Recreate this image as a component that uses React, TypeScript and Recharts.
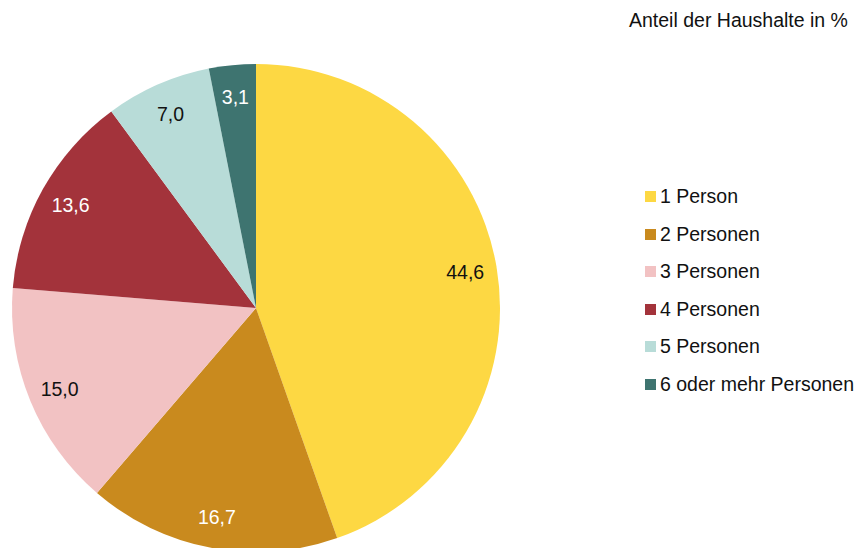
import { PieChart, Pie, Cell } from 'recharts';

const categories = ['1 Person', '2 Personen', '3 Personen', '4 Personen', '5 Personen', '6 oder mehr Personen'];
const shares = [44.6, 16.7, 15.0, 13.6, 7.0, 3.1];
const colors = ['#FDD843', '#C98A1E', '#F2C2C3', '#A3333B', '#B8DCD8', '#3E7470'];
const labelColors = ['#111', '#fff', '#111', '#fff', '#111', '#fff'];

const data = categories.map((name, i) => ({ name, value: shares[i] }));

const FONT = "'Liberation Sans', Arial, sans-serif";
const RAD = Math.PI / 180;

const renderLabel = (props: any) => {
    const { cx, cy, midAngle, outerRadius, index, value } = props;
    const r = outerRadius * 0.87;
    const x = cx + r * Math.cos(-midAngle * RAD);
    const y = cy + r * Math.sin(-midAngle * RAD);
    return (
        <text x={x} y={y} fill={labelColors[index]} textAnchor="middle" dominantBaseline="central"
            fontSize={19.5} fontFamily={FONT}>
            {value.toFixed(1).replace('.', ',')}
        </text>
    );
};

export default function App() {
    return (
        <div style={{ position: 'absolute', left: 0, top: 0, width: 859, height: 548, background: '#fff', overflow: 'hidden' }}>
            <div style={{ position: 'absolute', left: 629, top: 9, fontSize: 19.5, color: '#111', fontFamily: FONT, whiteSpace: 'nowrap' }}>
                Anteil der Haushalte in %
            </div>
            <PieChart width={859} height={548} margin={{ top: 0, right: 0, bottom: 0, left: 0 }}>
                <Pie
                    data={data}
                    dataKey="value"
                    nameKey="name"
                    cx={256}
                    cy={308}
                    outerRadius={244}
                    startAngle={90}
                    endAngle={-270}
                    stroke="none"
                    label={renderLabel}
                    labelLine={false}
                    isAnimationActive={false}
                >
                    {data.map((d, i) => (
                        <Cell key={d.name} fill={colors[i]} />
                    ))}
                </Pie>
            </PieChart>
            <div style={{ position: 'absolute', left: 645, top: 178, fontFamily: FONT, fontSize: 19.5, color: '#111' }}>
                {categories.map((c, i) => (
                    <div key={c} style={{ display: 'flex', alignItems: 'center', height: 37.5, whiteSpace: 'nowrap' }}>
                        <span style={{ width: 11, height: 11, background: colors[i], marginRight: 4, flexShrink: 0 }} />
                        <span>{c}</span>
                    </div>
                ))}
            </div>
        </div>
    );
}
